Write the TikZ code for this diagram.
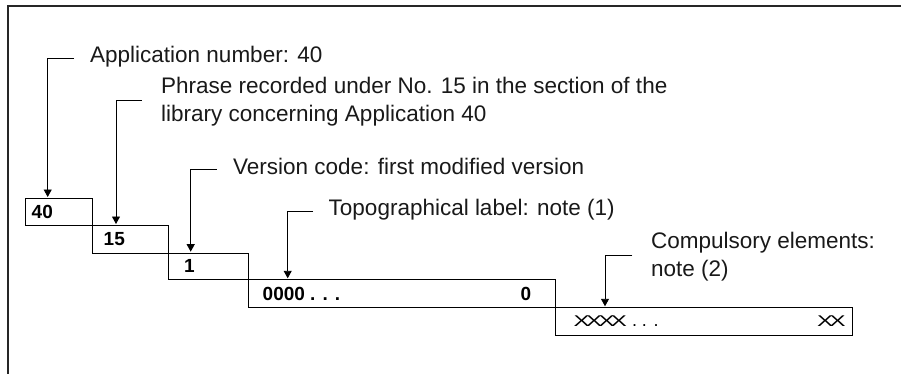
\documentclass[tikz,border=0pt]{standalone}
\usepackage{fontspec}
\setmainfont{Liberation Sans}
\newfontfamily\boxfont{Liberation Sans}
\newfontfamily\xfont[FakeStretch=1.55]{Liberation Sans}
\usetikzlibrary{arrows.meta}
\tikzset{
  frameline/.style={line width=1.5pt, black!85},
  boxstyle/.style={draw, line width=0.9pt, rectangle, inner sep=0pt, anchor=north west},
  leader/.style={line width=0.9pt, -{Triangle[width=8pt,length=7.5pt]}, shorten >=1pt},
  lbl/.style={anchor=base west, inner sep=0pt, font=\fontsize{22.5}{27}\selectfont, text=black!90},
  num/.style={anchor=base west, inner sep=0pt, font=\boxfont\bfseries\fontsize{19}{21}\selectfont},
  xx/.style={anchor=base west, inner sep=0pt, font=\xfont\fontsize{15.5}{17}\selectfont}
}
\begin{document}
\begin{tikzpicture}[x=1pt,y=-1pt]
\useasboundingbox (0,0) rectangle (901,374);
% frame (top and left edges)
\draw[frameline] (8,374) -- (8,6) -- (901,6);

% boxes
\node[boxstyle, minimum width=67pt, minimum height=27pt] (b1) at (25,198) {};
\node[boxstyle, minimum width=75.5pt, minimum height=27.5pt] (b2) at (92,225) {};
\node[boxstyle, minimum width=80.5pt, minimum height=26.5pt] (b3) at (167.5,252.7) {};
\node[boxstyle, minimum width=306.5pt, minimum height=28pt] (b4) at (248,279.3) {};
\node[boxstyle, minimum width=297.5pt, minimum height=28pt] (b5) at (554.5,307.3) {};

% box contents
\node[num] (n1) at (31.5,218.5) {40};
\node[num] (n2) at (103.5,245.5) {15};
\node[num] (n3) at (184,272.5) {1};
\node[num] (n4) at (262.5,300) {0000 . . .};
\node[num] (n4b) at (520.5,300) {0};
\node[xx] (n5) at (573.5,326) {X\kern-3.6pt X\kern-3.6pt X\kern-3.6pt X{\boxfont\fontsize{18}{20}\selectfont\ . . .}};
\node[xx] (n5b) at (817,326) {X\kern-3.6pt X};

% labels
\node[lbl] (l1) at (90,63) {Application number: 40};
\node[lbl] (l2a) at (161,93.5) {Phrase recorded under No. 15 in the section of the};
\node[lbl] (l2b) at (161,121.5) {library concerning Application 40};
\node[lbl] (l3) at (233,175) {Version code: first modified version};
\node[lbl] (l4) at (328.5,215) {Topographical label: note (1)};
\node[lbl] (l5a) at (651,248.5) {Compulsory elements:};
\node[lbl] (l5b) at (651,276) {note (2)};

% leader corners and free ends
\coordinate (k1) at (74,58.3);   \coordinate (a1) at (47.7,58.3);
\coordinate (k2) at (141.5,100.7); \coordinate (a2) at (116,100.7);
\coordinate (k3) at (216.7,169.3); \coordinate (a3) at (190.7,169.3);
\coordinate (k4) at (313,211);   \coordinate (a4) at (287.7,211);
\coordinate (k5) at (632.3,255); \coordinate (a5) at (605,255);

\draw[leader] (k1) -- (a1) -- (a1 |- b1.north);
\draw[leader] (k2) -- (a2) -- (a2 |- b2.north);
\draw[leader] (k3) -- (a3) -- (a3 |- b3.north);
\draw[leader] (k4) -- (a4) -- (a4 |- b4.north);
\draw[leader] (k5) -- (a5) -- (a5 |- b5.north);
\end{tikzpicture}
\end{document}
